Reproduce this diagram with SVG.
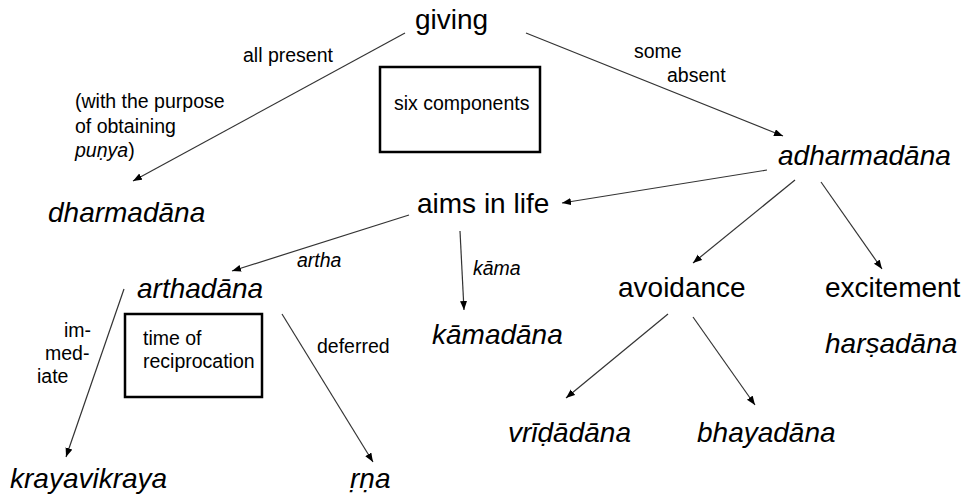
<svg xmlns="http://www.w3.org/2000/svg" width="967" height="494" viewBox="0 0 967 494">
<style>
text{font-family:"Liberation Sans",Arial,sans-serif;fill:#000}
.big{font-size:28px}
.sm{font-size:19.5px}
.it{font-style:italic}
.box{fill:none;stroke:#000;stroke-width:2.5}
.conn line{stroke:#333;stroke-width:1.2;marker-end:url(#ah)}
</style>
<defs>
<marker id="ah" markerUnits="userSpaceOnUse" markerWidth="10" markerHeight="8" refX="9" refY="3.5" orient="auto">
<path d="M0,0 L9,3.5 L0,7 z" fill="#000"/>
</marker>
</defs>
<rect width="967" height="494" fill="#fff"/>
<g id="connectors" class="conn">
<line x1="405" y1="33" x2="133" y2="181"/>
<line x1="526" y1="33" x2="783" y2="136"/>
<line x1="767" y1="170" x2="562" y2="203"/>
<line x1="795" y1="180" x2="693" y2="263"/>
<line x1="821" y1="182" x2="882" y2="269"/>
<line x1="409" y1="215" x2="232" y2="271"/>
<line x1="460" y1="231" x2="464" y2="310"/>
<line x1="124" y1="289" x2="66" y2="457"/>
<line x1="282" y1="314" x2="373" y2="462"/>
<line x1="668" y1="314" x2="566" y2="398"/>
<line x1="693" y1="317" x2="755" y2="405"/>
</g>
<g id="labels">
<text class="sm" x="243" y="62">all present</text>
<text class="sm" x="634" y="58">some</text>
<text class="sm" x="667" y="82">absent</text>
<text class="sm" x="75" y="108">(with the purpose</text>
<text class="sm" x="75" y="133">of obtaining</text>
<text class="sm" x="75" y="157"><tspan class="it">puṇya</tspan>)</text>
<text class="sm it" x="297" y="267">artha</text>
<text class="sm it" x="473" y="275">kāma</text>
<text class="sm" x="64" y="337">im-</text>
<text class="sm" x="45" y="360">med-</text>
<text class="sm" x="37" y="383">iate</text>
<text class="sm" x="317" y="353">deferred</text>
</g>
<g id="giving"><text class="big" x="415" y="29">giving</text></g>
<g id="six-components"><rect class="box" x="380" y="67" width="160" height="85"/><text class="sm" x="394" y="110">six components</text></g>
<g id="dharmadana"><text class="big it" x="48" y="222">dharmadāna</text></g>
<g id="adharmadana"><text class="big it" x="778" y="165">adharmadāna</text></g>
<g id="aims"><text class="big" x="417" y="213">aims in life</text></g>
<g id="arthadana"><text class="big it" x="137" y="298">arthadāna</text></g>
<g id="time-box"><rect class="box" x="125" y="314" width="137" height="83"/><text class="sm" x="143" y="345">time of</text><text class="sm" x="143" y="368">reciprocation</text></g>
<g id="kamadana"><text class="big it" x="432" y="344">kāmadāna</text></g>
<g id="avoidance"><text class="big" x="618" y="297">avoidance</text></g>
<g id="excitement"><text class="big" x="825" y="297">excitement</text></g>
<g id="harsadana"><text class="big it" x="825" y="353">harṣadāna</text></g>
<g id="vridadana"><text class="big it" x="508" y="442">vrīḍādāna</text></g>
<g id="bhayadana"><text class="big it" x="697" y="442">bhayadāna</text></g>
<g id="krayavikraya"><text class="big it" x="10" y="488">krayavikraya</text></g>
<g id="rna"><text class="big it" x="350" y="488">ṛṇa</text></g>
</svg>
